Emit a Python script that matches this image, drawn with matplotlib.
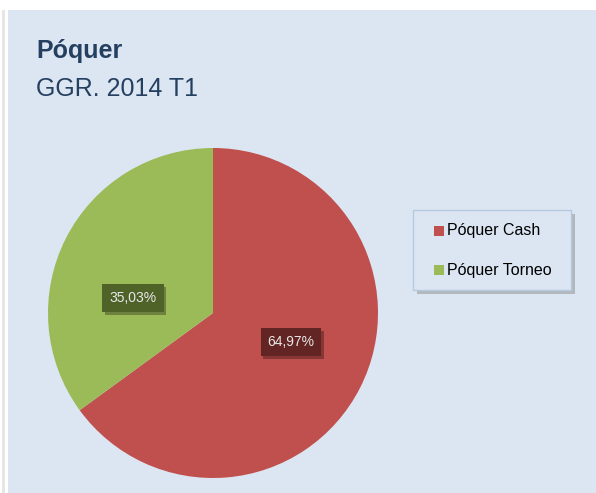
import matplotlib
matplotlib.use("Agg")
import matplotlib.pyplot as plt
from matplotlib.patches import Rectangle
import matplotlib.patheffects as pe

plt.rcParams['font.family'] = ['Liberation Sans', 'DejaVu Sans']

categories = ['Póquer Cash', 'Póquer Torneo']
values = [64.97, 35.03]
colors = ['#C0504D', '#9BBB59']
box_colors = ['#632523', '#4F6228']
title = 'Póquer'
subtitle = 'GGR. 2014 T1'

W, H = 596, 493
fig = plt.figure(figsize=(W / 100, H / 100), dpi=100)
fig.patch.set_facecolor('white')

# panel background and left shadow
fig.add_artist(Rectangle((8 / W, 0), 1 - 8 / W, 1 - 10 / H, transform=fig.transFigure,
                         facecolor='#DCE6F2', edgecolor='none', zorder=-2))
fig.add_artist(Rectangle((2 / W, 0), 3 / W, 1 - 10 / H, transform=fig.transFigure,
                         facecolor='#E6E6E6', edgecolor='none', zorder=-2))

fig.text(36 / W, 1 - 51 / H, title, fontsize=18, fontweight='bold', color='#243F60', va='center')
fig.text(36 / W, 1 - 89 / H, subtitle, fontsize=18, color='#243F60', va='center')

# pie: center (213, 313), radius 165
r = 165
ax = fig.add_axes([(213 - r) / W, 1 - (313 + r) / H, 2 * r / W, 2 * r / H])
ax.patch.set_visible(False)
wedges, _ = ax.pie(values, colors=colors, startangle=90, counterclock=False,
                   radius=1, wedgeprops=dict(linewidth=0))
ax.set_xlim(-1, 1)
ax.set_ylim(-1, 1)
ax.set_aspect('auto')
ax.axis('off')

label_pos = [(291, 342), (133, 298)]
for v, bc, (px, py) in zip(values, box_colors, label_pos):
    txt = f'{v:.2f}%'.replace('.', ',')
    x = (px - 213) / r
    y = -(py - 313) / r
    t = ax.text(x, y, txt, fontsize=10, color='#E8E8E8', ha='center', va='center',
                bbox=dict(boxstyle='square,pad=0.5', facecolor=bc, edgecolor='none'))
    t.get_bbox_patch().set_path_effects([
        pe.SimplePatchShadow(offset=(2, -2), shadow_rgbFace='black', alpha=0.3), pe.Normal()])

# legend box with shadow
lx0, ly0, lw, lh = 413, 210, 158, 80
fig.add_artist(Rectangle(((lx0 + 4) / W, 1 - (ly0 + lh + 4) / H), lw / W, lh / H,
                         transform=fig.transFigure, facecolor='#8C8C8C', edgecolor='none', alpha=0.5))
fig.add_artist(Rectangle((lx0 / W, 1 - (ly0 + lh) / H), lw / W, lh / H,
                         transform=fig.transFigure, facecolor='#DCE6F2', edgecolor='#B4C8E0', linewidth=1))
for i, (cat, c) in enumerate(zip(categories, colors)):
    yy = 231 + i * 39
    fig.add_artist(Rectangle((434 / W, 1 - (yy + 5) / H), 10 / W, 10 / H,
                             transform=fig.transFigure, facecolor=c, edgecolor='none'))
    fig.text(447 / W, 1 - yy / H, cat, fontsize=11.5, color='black', va='center')

fig.savefig('out.png', dpi=100)
